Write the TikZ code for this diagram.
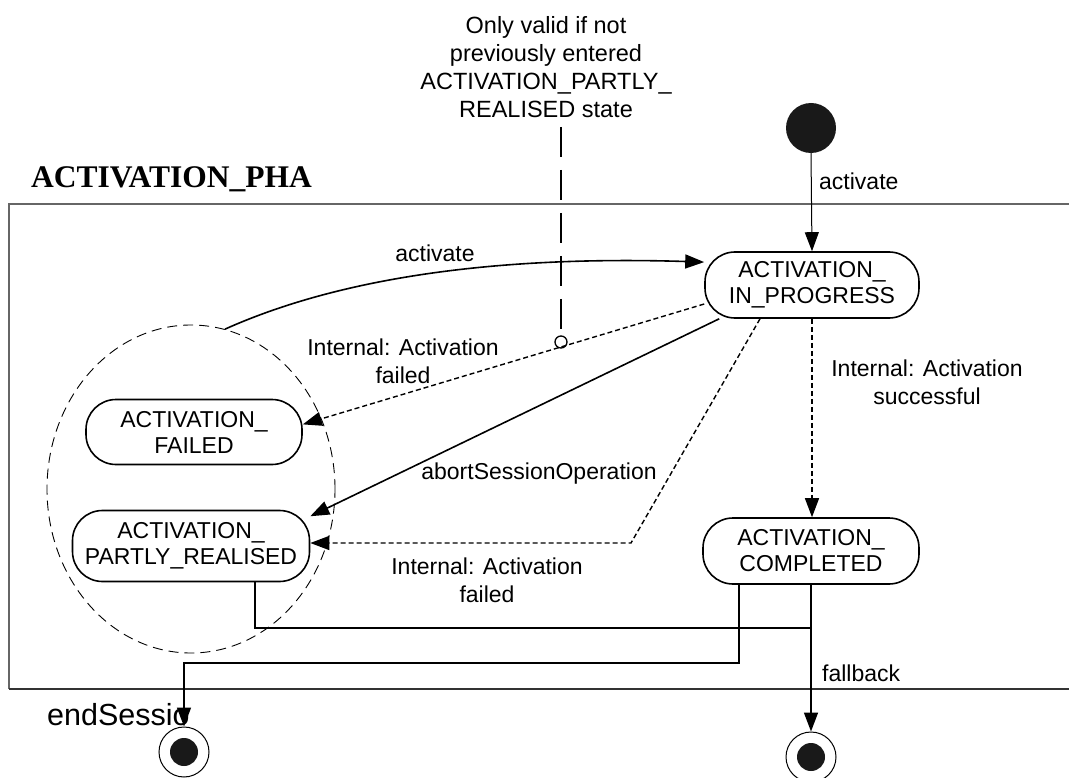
\documentclass[tikz,border=0pt]{standalone}
\usepackage{fontspec}
\setmainfont{Liberation Sans}
\newfontfamily\titlefont{Liberation Serif}
\usetikzlibrary{arrows.meta,shapes.geometric}
\begin{document}
\begin{tikzpicture}[x=1pt,y=-1pt,
  statebox/.style={draw,line width=1.6pt,rounded corners=30pt,align=center,
    inner sep=0pt,font=\fontsize{23}{26}\selectfont},
  lbl/.style={align=center,inner sep=0pt,font=\fontsize{23}{28}\selectfont},
  tip/.style={-{Triangle[length=19pt,width=14pt]}},
  solidc/.style={line width=1.6pt},
  dotc/.style={line width=1.4pt,dash pattern=on 5pt off 3pt},
  framel/.style={line width=1.4pt}]
\useasboundingbox (0,0) rectangle (1069,778);
% frame
\draw[framel,draw=black!60] (1069,204) -- (9,204) -- (9,689);
\draw[framel,draw=black!80] (9,689) -- (1069,689);
\node[anchor=base west,inner sep=0pt,font=\titlefont\bfseries\fontsize{31.5}{34}\selectfont] (title) at (31,188) {ACTIVATION\_PHA};
% dashed region
\node[draw,ellipse,dashed,dash pattern=on 10pt off 6pt,line width=0.9pt,minimum width=288pt,minimum height=328pt,inner sep=0pt] (ell) at (191,489) {};
% states
\node[statebox,minimum width=214pt,minimum height=66pt] (ip) at (812,285) {ACTIVATION\_\\IN\_PROGRESS};
\node[statebox,minimum width=216pt,minimum height=65pt] (failed) at (194,432) {ACTIVATION\_\\FAILED};
\node[statebox,minimum width=237pt,minimum height=71pt] (partly) at (191,546) {ACTIVATION\_\\PARTLY\_REALISED};
\node[statebox,minimum width=216pt,minimum height=66pt] (completed) at (811,551) {ACTIVATION\_\\COMPLETED};
% start / end
\node[circle,fill=black!90,minimum size=50pt,inner sep=0pt] (start) at (811,128) {};
\node[circle,draw,line width=1pt,minimum size=50pt,inner sep=0pt] (end1) at (184,752) {};
\node[circle,fill=black!90,minimum size=28pt,inner sep=0pt] (end1in) at (end1) {};
\node[circle,draw,line width=1pt,minimum size=50pt,inner sep=0pt] (end2) at (811,757) {};
\node[circle,fill=black!90,minimum size=28pt,inner sep=0pt] (end2in) at (end2) {};
% note
\node[lbl,font=\fontsize{23.5}{28}\selectfont] (note) at (546,67) {Only valid if not\\previously entered\\ACTIVATION\_PARTLY\_\\REALISED state};
\node[circle,draw,line width=1.3pt,minimum size=12pt,inner sep=0pt] (pin) at (561,342) {};
\draw[line width=1.3pt,dash pattern=on 30pt off 13pt] (pin.north |- 0,127) -- (pin.north);
% connectors
\draw[line width=1pt,tip] (start.south) -- (ip.north);
\node[lbl,anchor=west] (l1) at (819,181) {activate};
\draw[solidc,tip] (ell.78.6) .. controls (330,282) and (480,255) .. (ip.168);
\node[lbl] (l2) at (435,253) {activate};
\draw[dotc,tip] (ip.190) -- (failed.4);
\node[lbl] (l3) at (403,361) {Internal: Activation\\failed};
\draw[solidc,tip] ([xshift=15pt]ip.south west) -- (partly.14);
\node[lbl] (l4) at (539,474) {abortSessionOperation};
\coordinate (k1) at (631,543);
\draw[dotc,tip] ([xshift=-52pt]ip.south) -- (k1) -- (partly.east |- k1);
\node[lbl] (l5) at (487,580) {Internal: Activation\\failed};
\draw[dotc,tip] (ip.south) -- (ip.south |- completed.north);
\node[lbl] (l6) at (927,382) {Internal: Activation\\successful};
\node[lbl,anchor=base west,font=\fontsize{30.5}{34}\selectfont] (l8) at (47,725) {endSessio};
\draw[solidc,tip] (completed.south) -- (end2.north);
\node[lbl,anchor=west] (l7) at (822,673) {fallback};
\coordinate (j1) at (811,628);
\draw[solidc] ([xshift=64pt]partly.south) |- (j1);
\draw[solidc,tip] ([xshift=-72pt]completed.south) -- ++(0,78) -| (end1.north);
\end{tikzpicture}
\end{document}
